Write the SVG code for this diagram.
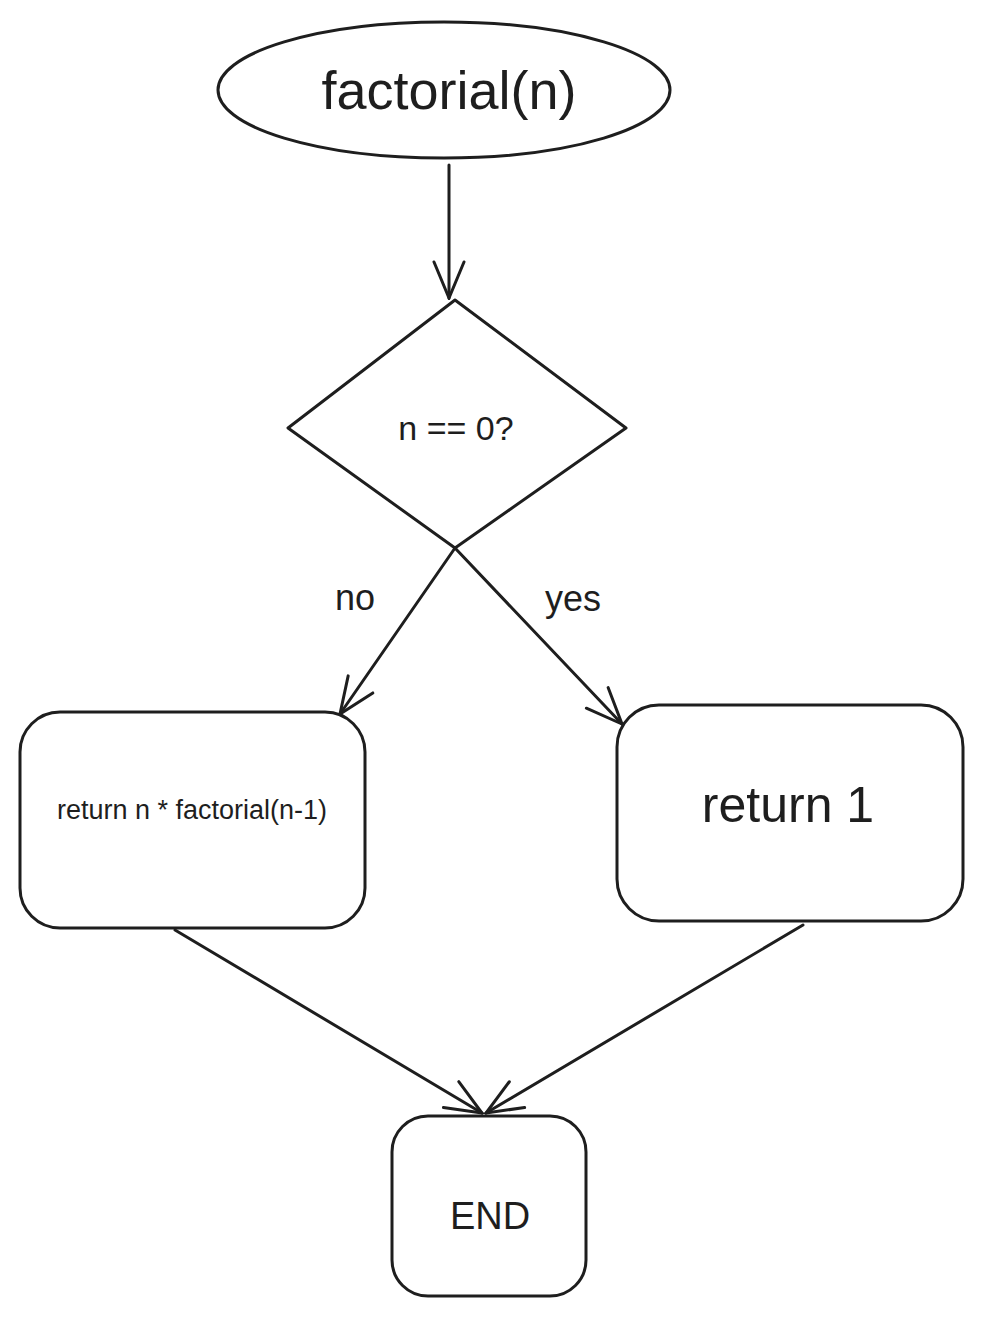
<svg xmlns="http://www.w3.org/2000/svg" width="982" height="1319" viewBox="0 0 982 1319">
<style>
.s{fill:#fff;stroke:#1e1e1e;stroke-width:3}
.c{fill:none;stroke:#1e1e1e;stroke-width:3;stroke-linecap:round}
text{font-family:"Liberation Sans",Arial,sans-serif;fill:#1e1e1e;text-anchor:middle;dominant-baseline:central}
</style>
<defs>
<marker id="a" viewBox="0 0 40 40" refX="38" refY="20" markerWidth="40" markerHeight="40" markerUnits="userSpaceOnUse" orient="auto">
<path d="M2,5 L38,20 L2,35" fill="none" stroke="#1e1e1e" stroke-width="3" stroke-linecap="round"/>
</marker>
</defs>
<rect width="982" height="1319" fill="#fff"/>
<g id="start"><ellipse class="s" cx="444" cy="90" rx="226" ry="68"/><text x="449" y="90" font-size="54">factorial(n)</text></g>
<g id="cond"><path class="s" d="M455,300 L626,428 L455,548 L288,428 Z" stroke-linejoin="round"/><text x="456" y="428" font-size="34">n == 0?</text></g>
<g id="recurse"><rect class="s" x="20" y="712" width="345" height="216" rx="40"/><text x="192" y="810" font-size="27">return n * factorial(n-1)</text></g>
<g id="base"><rect class="s" x="617" y="705" width="346" height="216" rx="42"/><text x="788" y="805" font-size="50">return 1</text></g>
<g id="end"><rect class="s" x="392" y="1116" width="194" height="180" rx="36"/><text x="490" y="1216" font-size="38">END</text></g>
<g id="connectors">
<line class="c" x1="449" y1="165" x2="449" y2="298" marker-end="url(#a)"/>
<line class="c" x1="455" y1="548" x2="340" y2="714" marker-end="url(#a)"/>
<line class="c" x1="455" y1="548" x2="622" y2="724" marker-end="url(#a)" stroke-width="4"/>
<line class="c" x1="175" y1="930" x2="482" y2="1113" marker-end="url(#a)"/>
<line class="c" x1="803" y1="925" x2="486" y2="1113" marker-end="url(#a)"/>
<text x="355" y="597" font-size="36">no</text>
<text x="573" y="598" font-size="36">yes</text>
</g>
</svg>
